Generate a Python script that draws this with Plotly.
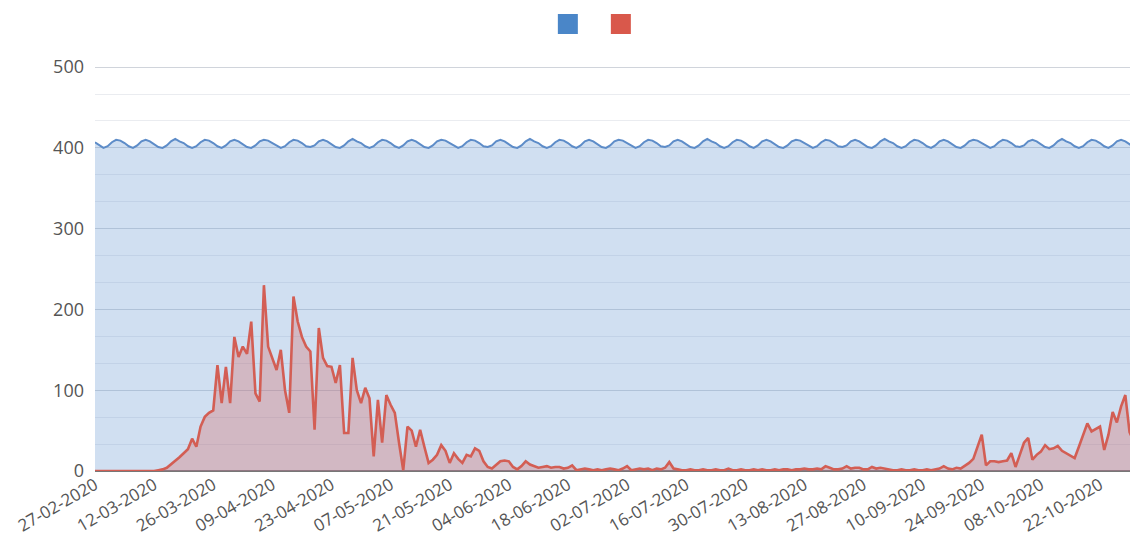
import plotly.graph_objects as go
import pandas as pd

start_date = "2020-02-27"

blue_values = [
    407, 403, 400, 402, 407, 410, 409,
    406, 402, 400, 403, 408, 410, 408,
    405, 401, 400, 403, 408, 411, 408,
    406, 402, 400, 402, 407, 410, 409,
    406, 402, 400, 403, 408, 410, 408,
    405, 401, 400, 403, 408, 410, 409,
    406, 402, 400, 402, 407, 410, 409,
    406, 402, 401, 403, 408, 410, 408,
    405, 401, 400, 403, 408, 411, 408,
    406, 402, 400, 402, 407, 410, 409,
    406, 402, 400, 403, 408, 410, 408,
    405, 401, 400, 403, 408, 410, 409,
    406, 402, 400, 402, 407, 410, 409,
    406, 402, 401, 403, 408, 410, 408,
    405, 401, 400, 403, 408, 411, 408,
    406, 402, 400, 402, 407, 410, 409,
    406, 402, 400, 403, 408, 410, 408,
    405, 401, 400, 403, 408, 410, 409,
    406, 402, 400, 402, 407, 410, 409,
    406, 402, 401, 403, 408, 410, 408,
    405, 401, 400, 403, 408, 411, 408,
    406, 402, 400, 402, 407, 410, 409,
    406, 402, 400, 403, 408, 410, 408,
    405, 401, 400, 403, 408, 410, 409,
    406, 402, 400, 402, 407, 410, 409,
    406, 402, 401, 403, 408, 410, 408,
    405, 401, 400, 403, 408, 411, 408,
    406, 402, 400, 402, 407, 410, 409,
    406, 402, 400, 403, 408, 410, 408,
    405, 401, 400, 403, 408, 410, 409,
    406, 402, 400, 402, 407, 410, 409,
    406, 402, 401, 403, 408, 410, 408,
    405, 401, 400, 403, 408, 411, 408,
    406, 402, 400, 402, 407, 410, 409,
    406, 402, 400, 403, 408, 410, 408,
    405, 401, 400,
]

red_values = [
    0, 0, 0, 0, 0, 0, 0, 0, 0, 0,
    0, 0, 0, 0, 0, 1, 2, 4, 8, 13,
    17, 22, 27, 40, 30, 55, 67, 72, 75, 131,
    84, 129, 84, 166, 141, 154, 145, 185, 96, 86,
    230, 154, 140, 125, 150, 100, 72, 216, 185, 166,
    154, 148, 51, 177, 140, 130, 129, 109, 131, 47,
    47, 140, 100, 84, 103, 90, 18, 88, 35, 94,
    82, 72, 35, 1, 55, 50, 30, 51, 30, 10,
    14, 20, 32, 25, 10, 22, 15, 10, 20, 18,
    28, 25, 12, 5, 3, 8, 12, 13, 12, 5,
    2, 6, 12, 8, 6, 4, 5, 6, 4, 5,
    5, 3, 4, 7, 1, 2, 3, 2, 1, 2,
    1, 2, 3, 2, 1, 3, 6, 1, 2, 3,
    2, 3, 1, 3, 2, 4, 11, 3, 2, 1,
    1, 2, 1, 1, 2, 1, 1, 2, 1, 1,
    3, 1, 1, 2, 1, 1, 2, 1, 2, 1,
    1, 2, 1, 2, 2, 1, 2, 2, 3, 2,
    2, 3, 2, 6, 4, 2, 2, 3, 6, 3,
    4, 4, 2, 2, 5, 3, 4, 3, 2, 1,
    1, 2, 1, 1, 2, 1, 1, 2, 1, 2,
    3, 6, 3, 2, 4, 3, 6, 10, 15, 30,
    45, 7, 12, 12, 11, 12, 13, 22, 5, 20,
    35, 41, 14, 20, 24, 32, 27, 28, 31, 25,
    22, 18, 16, 30, 45, 59, 49, 52, 55, 26,
    45, 73, 60, 80, 94, 48, 37, 100,
]

x_tick_step_days = 14
y_top = 510

dates = pd.date_range(start_date, periods=len(red_values), freq="D")

fig = go.Figure()

fig.add_trace(go.Scatter(
    x=dates, y=blue_values, mode="lines", fill="tozeroy",
    line=dict(color="#5d8cc8", width=2),
    fillcolor="rgba(110,155,210,0.32)",
    showlegend=False, hoverinfo="skip",
))
fig.add_trace(go.Scatter(
    x=dates, y=red_values, mode="lines", fill="tozeroy",
    line=dict(color="#d35e54", width=2.6),
    fillcolor="rgba(215,95,90,0.30)",
    showlegend=False, hoverinfo="skip",
))

# legend swatches (no labels, as in the reference)
fig.add_trace(go.Scatter(
    x=[None], y=[None], mode="markers", name="",
    marker=dict(symbol="square", size=16, color="#4a86c8",
                line=dict(color="#4a86c8", width=4)),
    showlegend=True,
))
fig.add_trace(go.Scatter(
    x=[None], y=[None], mode="markers", name="",
    marker=dict(symbol="square", size=16, color="#d9584b",
                line=dict(color="#d9584b", width=4)),
    showlegend=True,
))

fig.update_layout(
    width=1130, height=540,
    margin=dict(l=87, r=0, t=51, b=77, autoexpand=False),
    paper_bgcolor="white", plot_bgcolor="white",
    font=dict(family="Open Sans, Noto Sans, sans-serif", color="#555555"),
    legend=dict(orientation="h", x=0.485, xanchor="center", y=1.085,
                yanchor="middle", entrywidth=8, entrywidthmode="pixels",
                tracegroupgap=0, font=dict(size=2),
                bgcolor="rgba(0,0,0,0)"),
    xaxis=dict(
        type="date",
        range=[dates[0], dates[-1]],
        tick0=dates[0],
        dtick=x_tick_step_days * 86400000,
        tickformat="%d-%m-%Y",
        tickangle=-30,
        tickfont=dict(size=17, color="#555555"),
        showgrid=False, zeroline=False, showline=False,
        ticks="",
    ),
    yaxis=dict(
        range=[0, y_top],
        tickvals=[0, 100, 200, 300, 400, 500],
        tickfont=dict(size=18, color="#555555"),
        showgrid=True, gridcolor="rgba(150,160,175,0.45)", gridwidth=1,
        minor=dict(tickvals=[100 / 3, 200 / 3, 400 / 3, 500 / 3,
                             700 / 3, 800 / 3, 1000 / 3, 1100 / 3,
                             1300 / 3, 1400 / 3],
                   showgrid=True,
                   gridcolor="rgba(170,180,195,0.25)", gridwidth=1),
        zeroline=True, zerolinecolor="#777777", zerolinewidth=1.5,
        showline=False, ticks="", ticklabelstandoff=10,
    ),
)

fig.write_html("out.html")
